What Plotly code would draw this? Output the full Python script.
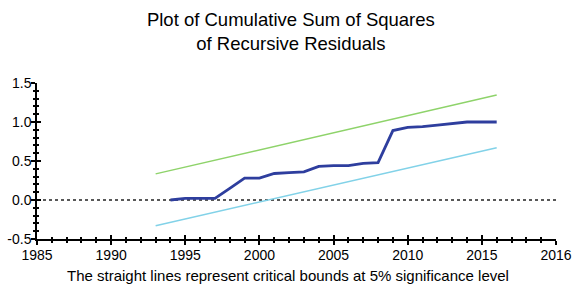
import plotly.graph_objects as go

years = list(range(1994, 2017))
cusum_sq = [0.0, 0.02, 0.02, 0.02, 0.15, 0.28, 0.28, 0.34, 0.35, 0.36, 0.43, 0.44,
            0.44, 0.47, 0.48, 0.89, 0.93, 0.94, 0.96, 0.98, 1.0, 1.0, 1.0]
bound_years = [1993, 2016]
upper_bound = [0.335, 1.345]
lower_bound = [-0.33, 0.67]
zero_x = [1985, 2020]
zero_y = [0, 0]
x_tickvals = [1985, 1990, 1995, 2000, 2005, 2010, 2015, 2020]
x_ticktext = ["1985", "1990", "1995", "2000", "2005", "2010", "2015", "2016"]
y_tickvals = [-0.5, 0.0, 0.5, 1.0, 1.5]
y_ticktext = ["-0.5", "0.0", "0.5", "1.0", "1.5"]

fig = go.Figure()
fig.add_trace(go.Scatter(x=zero_x, y=zero_y, mode="lines",
                         line=dict(color="#222222", width=1.5, dash="dot"), showlegend=False))
fig.add_trace(go.Scatter(x=bound_years, y=upper_bound, mode="lines",
                         line=dict(color="#8ed36a", width=1.5), showlegend=False))
fig.add_trace(go.Scatter(x=bound_years, y=lower_bound, mode="lines",
                         line=dict(color="#82d2e8", width=1.5), showlegend=False))
fig.add_trace(go.Scatter(x=years, y=cusum_sq, mode="lines",
                         line=dict(color="#2e3e9e", width=2.8), showlegend=False))
# invisible trace for secondary axes (crossing ticks)
fig.add_trace(go.Scatter(x=zero_x, y=zero_y, xaxis="x2", yaxis="y2", mode="lines",
                         line=dict(width=0), hoverinfo="skip", showlegend=False))

font_main = dict(family="Liberation Sans, Arial, sans-serif", color="black")

fig.update_layout(
    width=576, height=284,
    margin=dict(l=37, r=20, t=83, b=45, autoexpand=False),
    paper_bgcolor="white", plot_bgcolor="white",
    title=dict(text="Plot of Cumulative Sum of Squares<br>of Recursive Residuals",
               x=0.505, xanchor="center", y=1 - 25.5 / 284, yanchor="middle",
               font=dict(size=18.5, **font_main)),
    font=font_main,
    xaxis=dict(range=[1985, 2020], tickvals=x_tickvals, ticktext=x_ticktext, automargin=False,
               showgrid=False, zeroline=False, showline=True, linecolor="black", linewidth=1.5,
               ticks="outside", ticklen=4, tickwidth=1.5, tickcolor="black",
               ticklabelstandoff=-2,
               minor=dict(dtick=1, ticks="outside", ticklen=2, tickwidth=1.5, tickcolor="black"),
               tickfont=dict(size=14, **font_main)),
    yaxis=dict(range=[-0.5, 1.5], tickvals=y_tickvals, ticktext=y_ticktext, automargin=False,
               showgrid=False, zeroline=False, showline=True, linecolor="black", linewidth=1.5,
               ticks="outside", ticklen=4, tickwidth=1.5, tickcolor="black",
               ticklabelstandoff=-3,
               minor=dict(dtick=0.1, ticks="outside", ticklen=2, tickwidth=1.5, tickcolor="black"),
               tickfont=dict(size=14, **font_main)),
    xaxis2=dict(range=[1985, 2020], overlaying="x", tickvals=x_tickvals, showticklabels=False,
                showgrid=False, zeroline=False, showline=False, automargin=False,
                ticks="inside", ticklen=4, tickwidth=1.5, tickcolor="black",
                minor=dict(dtick=1, ticks="inside", ticklen=2, tickwidth=1.5, tickcolor="black")),
    yaxis2=dict(range=[-0.5, 1.5], overlaying="y", tickvals=y_tickvals, showticklabels=False,
                showgrid=False, zeroline=False, showline=False, automargin=False,
                ticks="inside", ticklen=4, tickwidth=1.5, tickcolor="black",
                minor=dict(dtick=0.1, ticks="inside", ticklen=2, tickwidth=1.5, tickcolor="black")),
    annotations=[dict(text="The straight lines represent critical bounds at 5% significance level",
                      xref="paper", yref="paper", x=0.4827, y=(239 - 275.5) / 156,
                      xanchor="center", yanchor="middle",
                      showarrow=False, font=dict(size=15, **font_main))],
)

fig.write_html("out.html", config={"displayModeBar": False},
               post_script="document.body.style.margin='0';document.body.style.padding='0';"
                           "document.body.style.overflow='hidden';")
